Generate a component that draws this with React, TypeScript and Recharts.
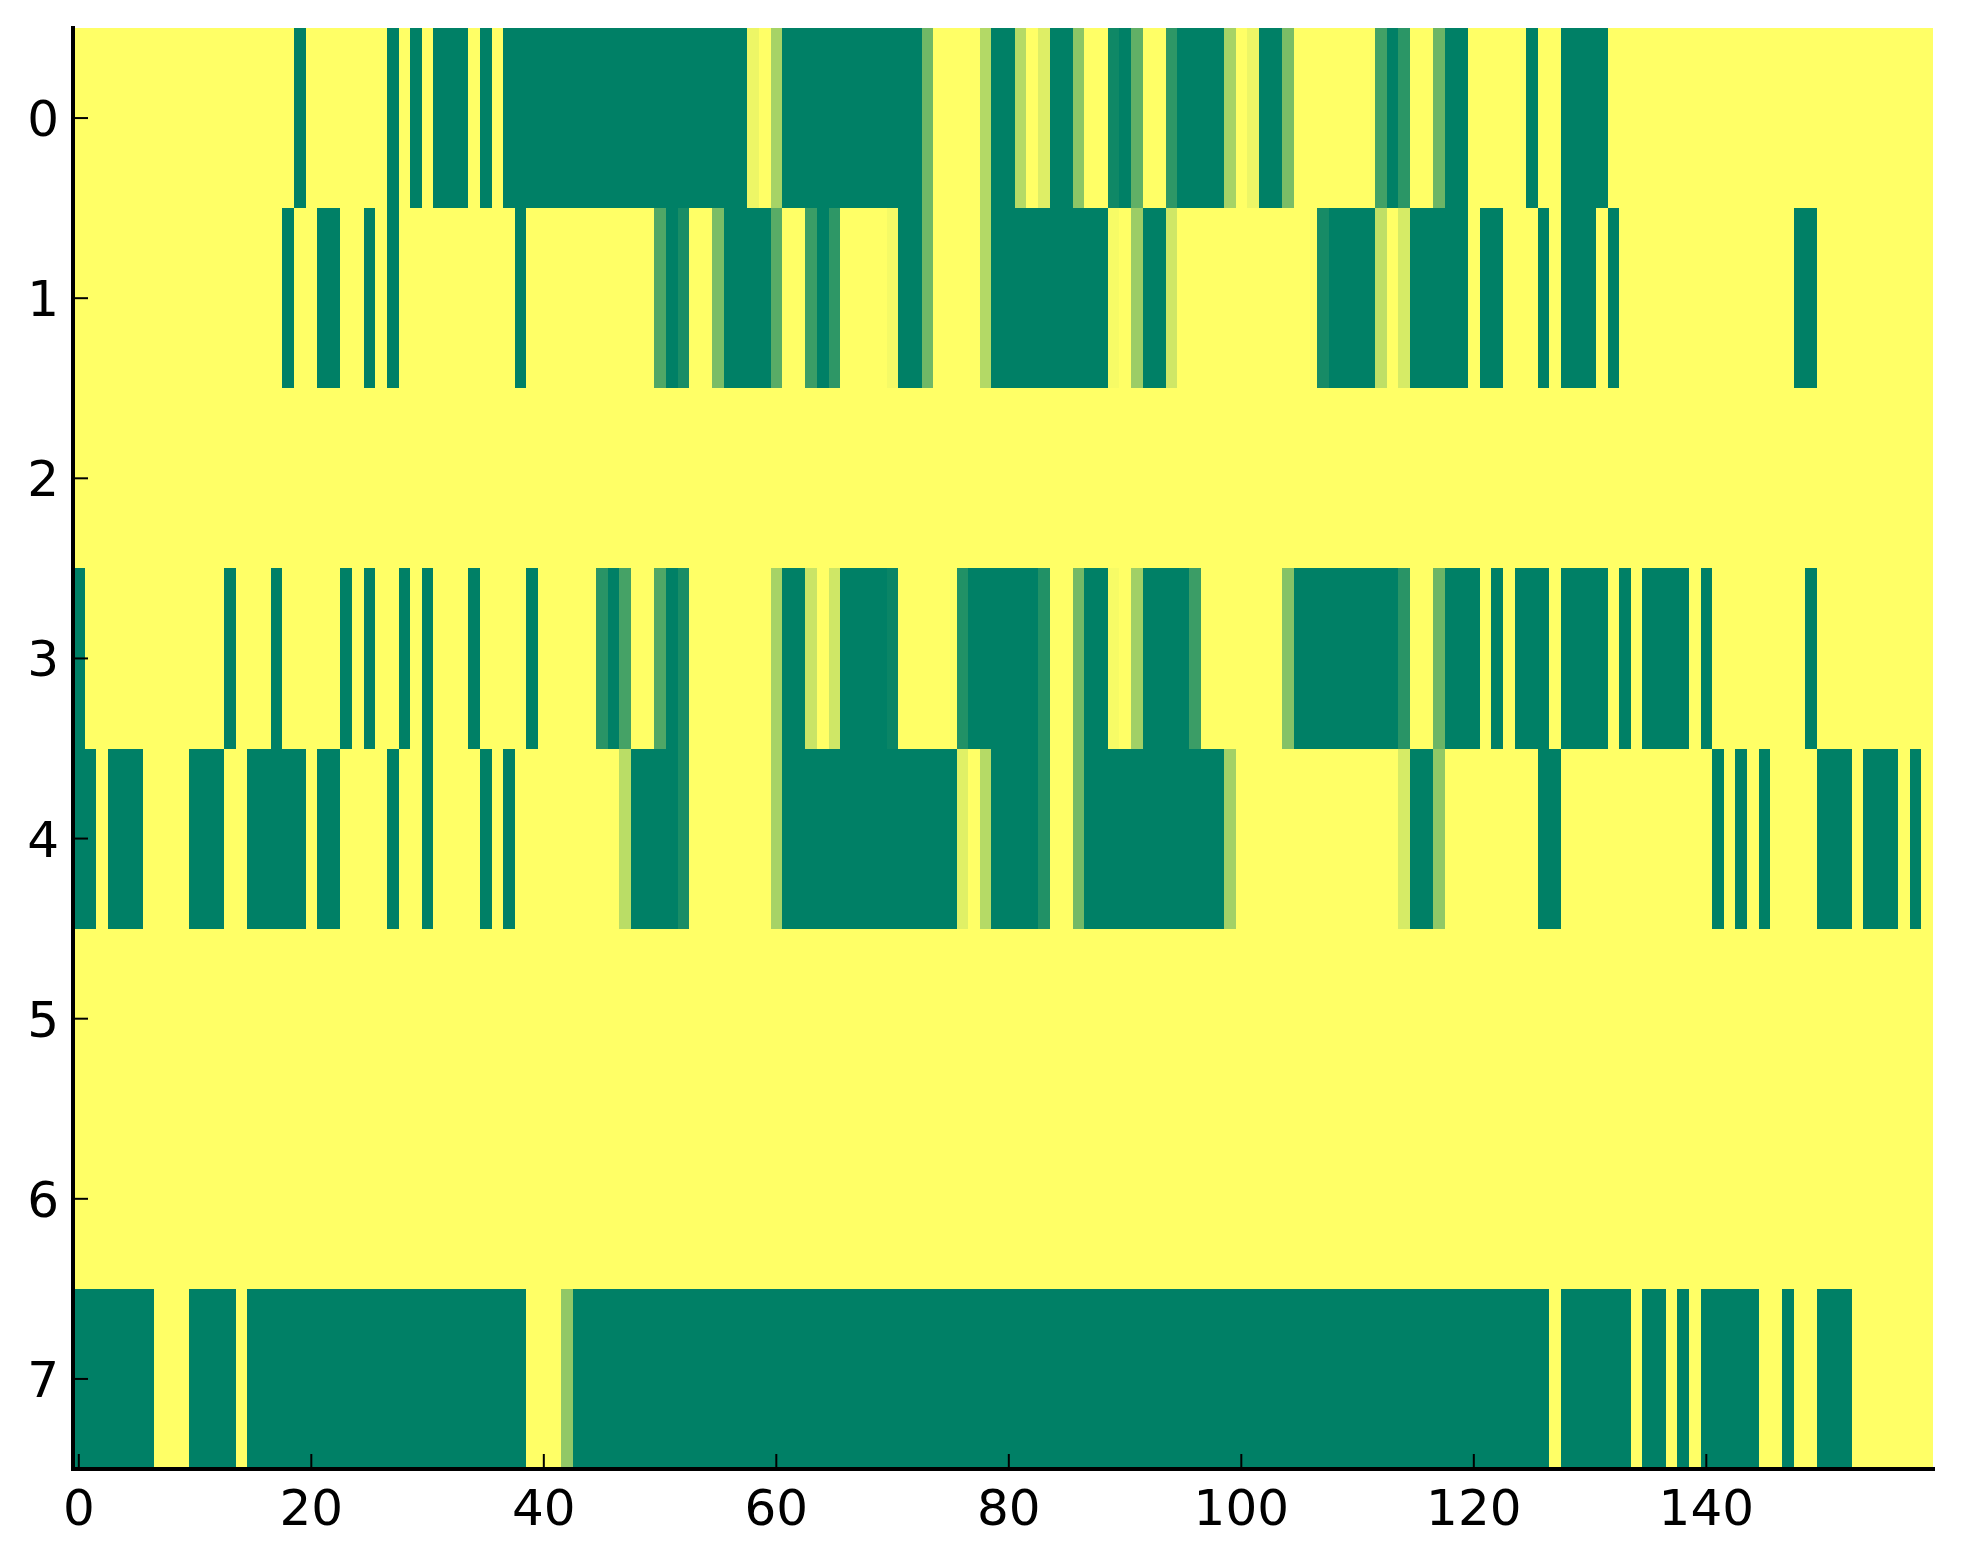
import { ScatterChart, Scatter, XAxis, YAxis } from "recharts";

const row0 = [
  0, 0, 0, 0, 0, 0, 0, 0, 0, 0,
  0, 0, 0, 0, 0, 0, 0, 0, 0, 1,
  0, 0, 0, 0, 0, 0, 0, 1, 0, 1,
  0, 1, 1, 1, 0, 1, 0, 1, 1, 1,
  1, 1, 1, 1, 1, 1, 1, 1, 1, 1,
  1, 1, 1, 1, 1, 1, 1, 1, 0.07, 0,
  0.35, 1, 1, 1, 1, 1, 1, 1, 1, 1,
  1, 1, 1, 0.56, 0, 0, 0, 0, 0.3, 1,
  1, 0.29, 0, 0.13, 1, 1, 0.45, 0, 0, 0.94,
  1, 0.62, 0, 0, 0.82, 1, 1, 1, 1, 0.35,
  0, 0.07, 1, 1, 0.52, 0, 0, 0, 0, 0,
  0, 0, 0.74, 1, 0.83, 0, 0, 0.58, 1, 1,
  0, 0, 0, 0, 0, 1, 0, 0, 1, 1,
  1, 1, 0, 0, 0, 0, 0, 0, 0, 0,
  0, 0, 0, 0, 0, 0, 0, 0, 0, 0,
  0, 0, 0, 0, 0, 0, 0, 0, 0, 0,
];
const row1 = [
  0, 0, 0, 0, 0, 0, 0, 0, 0, 0,
  0, 0, 0, 0, 0, 0, 0, 0, 1, 0,
  0, 1, 1, 0, 0, 1, 0, 1, 0, 0,
  0, 0, 0, 0, 0, 0, 0, 0, 1, 0,
  0, 0, 0, 0, 0, 0, 0, 0, 0, 0,
  0.69, 1, 0.9, 0, 0, 0.52, 1, 1, 1, 1,
  0.65, 0, 0, 0.77, 1, 0.82, 0, 0, 0, 0,
  0.04, 1, 1, 0.56, 0, 0, 0, 0, 0.3, 1,
  1, 1, 1, 1, 1, 1, 1, 1, 1, 0.03,
  0, 0.39, 1, 1, 0.19, 0, 0, 0, 0, 0,
  0, 0, 0, 0, 0, 0, 0, 0.91, 1, 1,
  1, 1, 0.25, 0, 0.16, 1, 1, 1, 1, 1,
  0, 1, 1, 0, 0, 0, 1, 0, 1, 1,
  1, 0, 1, 0, 0, 0, 0, 0, 0, 0,
  0, 0, 0, 0, 0, 0, 0, 0, 1, 1,
  0, 0, 0, 0, 0, 0, 0, 0, 0, 0,
];
const row2 = [
  0, 0, 0, 0, 0, 0, 0, 0, 0, 0, 0, 0, 0, 0, 0, 0, 0, 0, 0, 0,
  0, 0, 0, 0, 0, 0, 0, 0, 0, 0, 0, 0, 0, 0, 0, 0, 0, 0, 0, 0,
  0, 0, 0, 0, 0, 0, 0, 0, 0, 0, 0, 0, 0, 0, 0, 0, 0, 0, 0, 0,
  0, 0, 0, 0, 0, 0, 0, 0, 0, 0, 0, 0, 0, 0, 0, 0, 0, 0, 0, 0,
  0, 0, 0, 0, 0, 0, 0, 0, 0, 0, 0, 0, 0, 0, 0, 0, 0, 0, 0, 0,
  0, 0, 0, 0, 0, 0, 0, 0, 0, 0, 0, 0, 0, 0, 0, 0, 0, 0, 0, 0,
  0, 0, 0, 0, 0, 0, 0, 0, 0, 0, 0, 0, 0, 0, 0, 0, 0, 0, 0, 0,
  0, 0, 0, 0, 0, 0, 0, 0, 0, 0, 0, 0, 0, 0, 0, 0, 0, 0, 0, 0,
];
const row3 = [
  1, 0, 0, 0, 0, 0, 0, 0, 0, 0,
  0, 0, 0, 1, 0, 0, 0, 1, 0, 0,
  0, 0, 0, 1, 0, 1, 0, 0, 1, 0,
  1, 0, 0, 0, 1, 0, 0, 0, 0, 1,
  0, 0, 0, 0, 0, 0.84, 1, 0.73, 0, 0,
  0.69, 1, 0.9, 0, 0, 0, 0, 0, 0, 0,
  0.35, 1, 1, 0.21, 0, 0.19, 1, 1, 1, 1,
  0.96, 0, 0, 0, 0, 0, 0.87, 1, 1, 1,
  1, 1, 1, 0.87, 0, 0, 0.55, 1, 1, 0.03,
  0, 0.37, 1, 1, 1, 1, 0.77, 0, 0, 0,
  0, 0, 0, 0, 0.48, 1, 1, 1, 1, 1,
  1, 1, 1, 1, 0.84, 0, 0, 0.58, 1, 1,
  1, 0, 1, 0, 1, 1, 1, 0, 1, 1,
  1, 1, 0, 1, 0, 1, 1, 1, 1, 0,
  1, 0, 0, 0, 0, 0, 0, 0, 0, 1,
  0, 0, 0, 0, 0, 0, 0, 0, 0, 0,
];
const row4 = [
  1, 1, 0, 1, 1, 1, 0, 0, 0, 0,
  1, 1, 1, 0, 0, 1, 1, 1, 1, 1,
  0, 1, 1, 0, 0, 0, 0, 1, 0, 0,
  1, 0, 0, 0, 0, 1, 0, 1, 0, 0,
  0, 0, 0, 0, 0, 0, 0, 0.27, 1, 1,
  1, 1, 0.9, 0, 0, 0, 0, 0, 0, 0,
  0.35, 1, 1, 1, 1, 1, 1, 1, 1, 1,
  1, 1, 1, 1, 1, 1, 0.12, 0, 0.29, 1,
  1, 1, 1, 0.87, 0, 0, 0.55, 1, 1, 1,
  1, 1, 1, 1, 1, 1, 1, 1, 1, 0.36,
  0, 0, 0, 0, 0, 0, 0, 0, 0, 0,
  0, 0, 0, 0, 0.16, 1, 1, 0.43, 0, 0,
  0, 0, 0, 0, 0, 0, 1, 1, 0, 0,
  0, 0, 0, 0, 0, 0, 0, 0, 0, 0,
  0, 1, 0, 1, 0, 1, 0, 0, 0, 0,
  1, 1, 1, 0, 1, 1, 1, 0, 1, 0,
];
const row5 = row2;
const row6 = row2;
const row7 = [
  1, 1, 1, 1, 1, 1, 1, 0, 0, 0,
  1, 1, 1, 1, 0, 1, 1, 1, 1, 1,
  1, 1, 1, 1, 1, 1, 1, 1, 1, 1,
  1, 1, 1, 1, 1, 1, 1, 1, 1, 0,
  0, 0, 0.43, 1, 1, 1, 1, 1, 1, 1,
  1, 1, 1, 1, 1, 1, 1, 1, 1, 1,
  1, 1, 1, 1, 1, 1, 1, 1, 1, 1,
  1, 1, 1, 1, 1, 1, 1, 1, 1, 1,
  1, 1, 1, 1, 1, 1, 1, 1, 1, 1,
  1, 1, 1, 1, 1, 1, 1, 1, 1, 1,
  1, 1, 1, 1, 1, 1, 1, 1, 1, 1,
  1, 1, 1, 1, 1, 1, 1, 1, 1, 1,
  1, 1, 1, 1, 1, 1, 1, 0, 1, 1,
  1, 1, 1, 1, 0, 1, 1, 0, 1, 0,
  1, 1, 1, 1, 1, 0, 0, 1, 0, 0,
  1, 1, 1, 0, 0, 0, 0, 0, 0, 0,
];

const rows = [row0, row1, row2, row3, row4, row5, row6, row7];
const xTicks = [0, 20, 40, 60, 80, 100, 120, 140];
const yTicks = [0, 1, 2, 3, 4, 5, 6, 7];

const WIDTH = 1963;
const HEIGHT = 1564;
const MARGIN = { top: 28, right: 30, bottom: 35, left: 0 };
const Y_AXIS_W = 73;
const X_AXIS_H = 60;
const PLOT_W = WIDTH - MARGIN.left - MARGIN.right - Y_AXIS_W;
const PLOT_H = HEIGHT - MARGIN.top - MARGIN.bottom - X_AXIS_H;
const CELL_W = PLOT_W / rows[0].length;
const CELL_H = PLOT_H / rows.length;

const FONT = "'DejaVu Sans', sans-serif";
const TICK_LEN = 15;

// summer_r colormap
const cellColor = (v: number) => {
  const t = 1 - v;
  return `rgb(${Math.round(255 * t)},${Math.round(128 + 127 * t)},102)`;
};

const HeatCell = (props: any) => (
  <rect
    x={props.cx - CELL_W / 2}
    y={props.cy - CELL_H / 2}
    width={CELL_W}
    height={CELL_H}
    fill={cellColor(props.payload.v)}
    shapeRendering="crispEdges"
  />
);

const BottomTick = ({ x, y, payload }: any) => (
  <g>
    <line x1={x} x2={x} y1={y - TICK_LEN} y2={y} stroke="#000" strokeWidth={2} />
    <text x={x} y={y + 56} textAnchor="middle" fontSize={50} fontFamily={FONT} fill="#000">
      {payload.value}
    </text>
  </g>
);

const TopTick = ({ x, y }: any) => (
  <line x1={x} x2={x} y1={y} y2={y + TICK_LEN} stroke="#000" strokeWidth={2} />
);

const LeftTick = ({ x, y, payload }: any) => (
  <g>
    <line x1={x} x2={x + TICK_LEN} y1={y} y2={y} stroke="#000" strokeWidth={2} />
    <text x={x - 14} y={y + 18} textAnchor="end" fontSize={50} fontFamily={FONT} fill="#000">
      {payload.value}
    </text>
  </g>
);

const RightTick = ({ x, y }: any) => (
  <line x1={x - TICK_LEN} x2={x} y1={y} y2={y} stroke="#000" strokeWidth={2} />
);

const axisLine = { stroke: "#000", strokeWidth: 4, strokeLinecap: "square" as const };

export default function App() {
  return (
    <div style={{ position: "absolute", left: 0, top: 0, width: WIDTH, height: HEIGHT, background: "#fff" }}>
      <ScatterChart width={WIDTH} height={HEIGHT} margin={MARGIN}>
        {rows.map((row, r) => (
          <Scatter
            key={r}
            data={row.map((v, c) => ({ x: c, y: r, v }))}
            dataKey="y"
            xAxisId="bottom"
            yAxisId="left"
            shape={HeatCell}
            zIndex={100}
            isAnimationActive={false}
          />
        ))}
        <XAxis
          xAxisId="bottom"
          type="number"
          dataKey="x"
          domain={[-0.5, 159.5]}
          ticks={xTicks}
          height={X_AXIS_H}
          interval={0}
          tick={BottomTick}
          tickLine={false}
          tickSize={0}
          tickMargin={0}
          axisLine={axisLine}
          zIndex={700}
          allowDataOverflow
        />
        <XAxis
          xAxisId="top"
          orientation="top"
          type="number"
          domain={[-0.5, 159.5]}
          ticks={xTicks}
          height={0}
          interval={0}
          tick={TopTick}
          tickLine={false}
          tickSize={0}
          tickMargin={0}
          axisLine={axisLine}
          zIndex={700}
          allowDataOverflow
        />
        <YAxis
          yAxisId="left"
          type="number"
          dataKey="y"
          reversed
          domain={[-0.5, 7.5]}
          ticks={yTicks}
          width={Y_AXIS_W}
          interval={0}
          tick={LeftTick}
          tickLine={false}
          tickSize={0}
          tickMargin={0}
          axisLine={axisLine}
          zIndex={700}
          allowDataOverflow
        />
        <YAxis
          yAxisId="right"
          orientation="right"
          type="number"
          reversed
          domain={[-0.5, 7.5]}
          ticks={yTicks}
          width={0}
          interval={0}
          tick={RightTick}
          tickLine={false}
          tickSize={0}
          tickMargin={0}
          axisLine={axisLine}
          zIndex={700}
          allowDataOverflow
        />
      </ScatterChart>
    </div>
  );
}
